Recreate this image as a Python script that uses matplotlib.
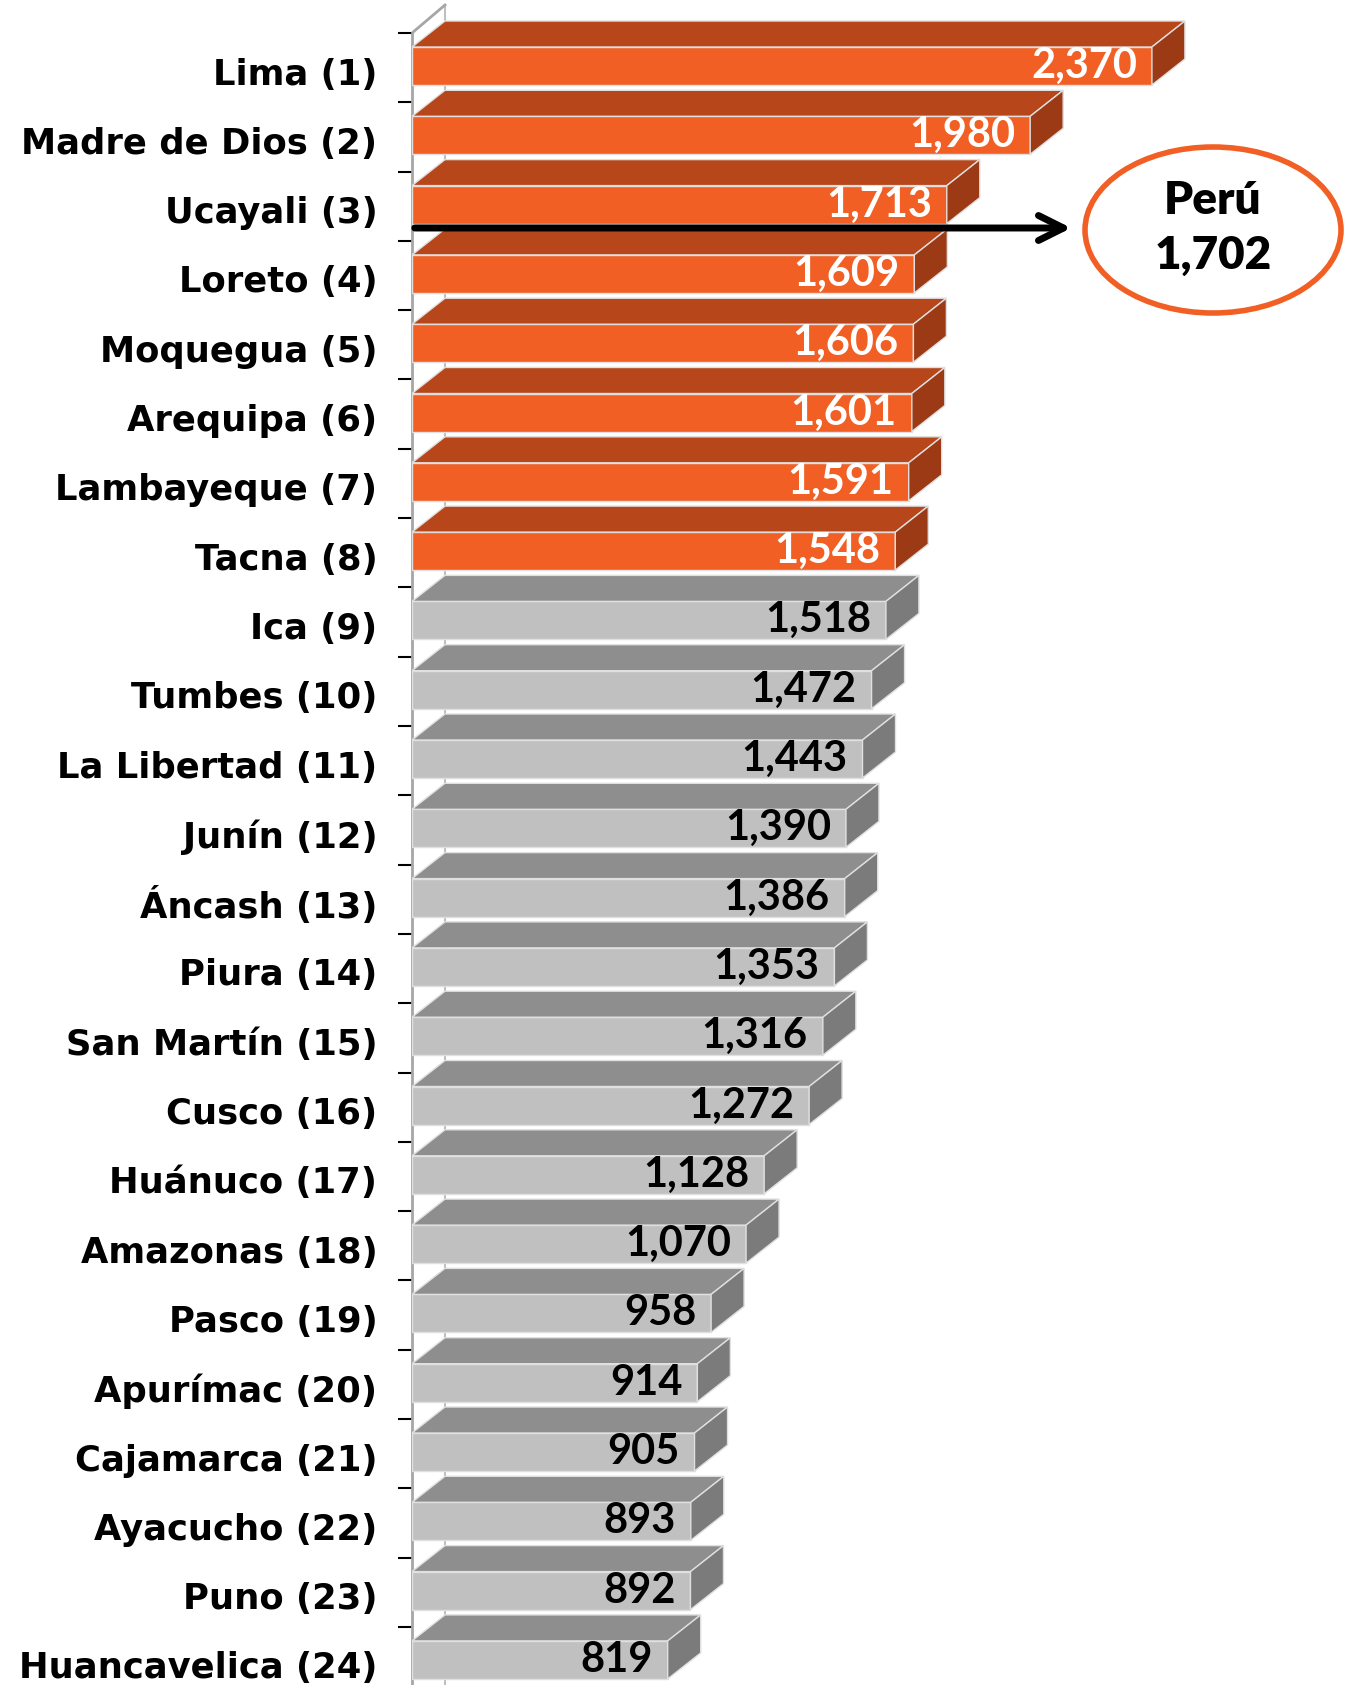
import matplotlib
matplotlib.use("Agg")
import matplotlib.pyplot as plt
from matplotlib.patches import Polygon, Ellipse

regions = ["Lima (1)", "Madre de Dios (2)", "Ucayali (3)", "Loreto (4)", "Moquegua (5)",
           "Arequipa (6)", "Lambayeque (7)", "Tacna (8)", "Ica (9)", "Tumbes (10)",
           "La Libertad (11)", "Junín (12)", "Áncash (13)", "Piura (14)", "San Martín (15)",
           "Cusco (16)", "Huánuco (17)", "Amazonas (18)", "Pasco (19)", "Apurímac (20)",
           "Cajamarca (21)", "Ayacucho (22)", "Puno (23)", "Huancavelica (24)"]
values = [2370, 1980, 1713, 1609, 1606, 1601, 1591, 1548, 1518, 1472, 1443, 1390,
          1386, 1353, 1316, 1272, 1128, 1070, 958, 914, 905, 893, 892, 819]
peru_value = 1702
n_top = 8  # bars above the national average

plt.rcParams['font.family'] = ['Lato', 'DejaVu Sans']

W, H = 1346, 1685
px_per_unit = 0.3122   # horizontal pixels per value unit
slot = 69.3            # vertical pixels per category
axis_x = 412

fig = plt.figure(figsize=(W / 100, H / 100), dpi=100)
ax = fig.add_axes([axis_x / W, 0, 1 - axis_x / W, 1])
ax.set_xlim(0, (W - axis_x) / px_per_unit)
ax.set_ylim(H / slot, 0)

dx = 33 / px_per_unit
dy = 26 / slot
hh = 38 / slot / 2
centers = [(66 + slot * i) / slot for i in range(len(values))]

for i, (v, c) in enumerate(zip(values, centers)):
    if i < n_top:
        front, top, side, tcol = '#F15F24', '#B7461B', '#9B3A15', 'white'
    else:
        front, top, side, tcol = '#C0C0C0', '#8E8E8E', '#7B7B7B', 'black'
    ft, fb = c - hh, c + hh
    ax.barh(c, v, height=2 * hh, color=front, edgecolor='#E0E0E0', linewidth=1, zorder=3)
    ax.add_patch(Polygon([(0, ft), (v, ft), (v + dx, ft - dy), (dx, ft - dy)],
                         closed=True, facecolor=top, edgecolor='#E0E0E0', linewidth=1, zorder=3))
    ax.add_patch(Polygon([(v, ft), (v + dx, ft - dy), (v + dx, fb - dy), (v, fb)],
                         closed=True, facecolor=side, edgecolor='#E0E0E0', linewidth=1, zorder=3))
    ax.text(v - 15 / px_per_unit, c, f"{v:,}", ha='right', va='center', color=tcol,
            fontsize=30, fontweight='bold', zorder=5)

# axis walls
y_wall = 33 / slot
ax.plot([0, 0], [y_wall, H / slot], color='#A6A6A6', lw=2, zorder=2, clip_on=False)
ax.plot([0, dx], [y_wall, 5 / slot], color='#A6A6A6', lw=2, zorder=2)
ax.plot([dx, dx], [5 / slot, H / slot], color='#BFBFBF', lw=1.5, zorder=1)

ax.set_yticks([c + 5 / slot for c in centers])
ax.set_yticklabels(regions, fontsize=25.5, fontweight='bold', family='DejaVu Sans')
ax.tick_params(axis='y', which='major', length=0, pad=25)
ax.set_yticks([(33 + slot * i) / slot for i in range(len(values))], minor=True)
ax.tick_params(axis='y', which='minor', length=10, width=1.5, color='black')
ax.set_xticks([])
for s in ax.spines.values():
    s.set_visible(False)

# national average marker
y_arrow = 228 / slot
ax.annotate('', xy=(1074 - axis_x, y_arrow), xycoords=('axes pixels', 'data'),
            xytext=(0, y_arrow), textcoords='data',
            arrowprops=dict(arrowstyle='->', lw=5, color='black', mutation_scale=45),
            zorder=6)
ex = (1213 - axis_x) / px_per_unit
ax.add_patch(Ellipse((ex, 230 / slot), 256 / px_per_unit, 166 / slot, facecolor='white',
                     edgecolor='#F15F24', linewidth=4, zorder=6, clip_on=False))
ax.text(ex, 200 / slot, "Perú", ha='center', va='center', fontsize=33, fontweight='heavy', zorder=7)
ax.text(ex, 256 / slot, f"{peru_value:,}", ha='center', va='center', fontsize=33,
        fontweight='heavy', zorder=7)

fig.savefig("out.png", dpi=100)
